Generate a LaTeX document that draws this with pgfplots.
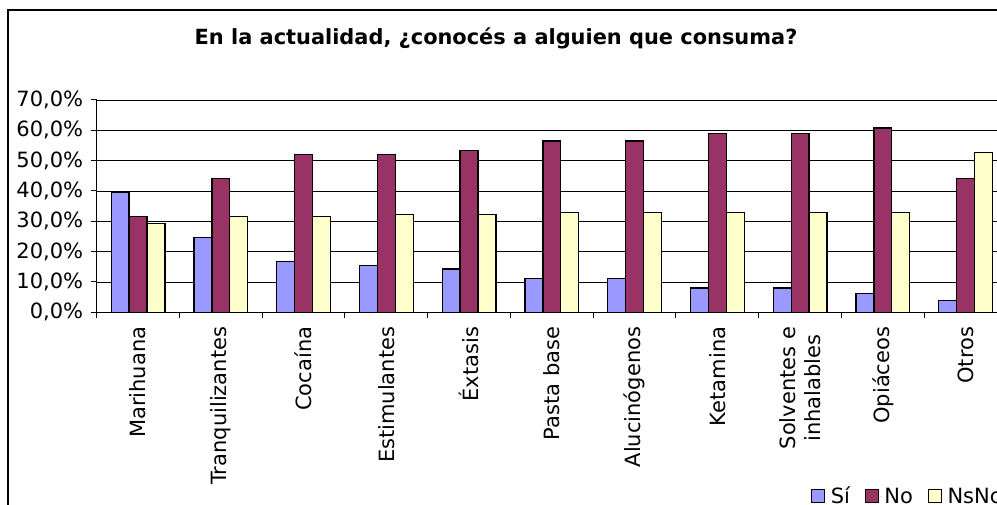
\documentclass[border=0pt]{standalone}
\usepackage{pgfplots}
\pgfplotsset{compat=1.18}
\usepackage{fontspec}
\setmainfont{DejaVu Sans}
\definecolor{csi}{HTML}{9999FF}
\definecolor{cno}{HTML}{993366}
\definecolor{cns}{HTML}{FFFFCC}
\begin{document}
\begin{tikzpicture}
\path[use as bounding box] (0pt,0pt) rectangle (997pt,505pt);
\fill[white] (0pt,0pt) rectangle (997pt,505pt);
\draw[line width=2pt] (8pt,-10pt) rectangle (1012pt,495pt);
\node[font=\fontsize{20.9}{24}\selectfont\bfseries] at (496pt,467pt) {En la actualidad, ¿conocés a alguien que consuma?};
\begin{axis}[
  at={(96.7pt,192.7pt)}, anchor=south west,
  width=910.3pt, height=212.3pt, scale only axis,
  xmin=-0.5, xmax=10.5, ymin=0, ymax=70,
  ybar=0pt, bar width=17.9pt,
  axis x line*=bottom, axis y line*=left,
  axis line style={black, line width=1pt},
  ytick={0,10,...,70},
  ymajorgrids, grid style={black, line width=0.8pt},
  xtick={0,...,10},
  xticklabels={Marihuana, Tranquilizantes, Cocaína, Estimulantes, Éxtasis, Pasta base, Alucinógenos, Ketamina, {Solventes e\\inhalables}, Opiáceos, Otros},
  minor xtick={-0.5,0.5,...,10.5},
  tick align=outside, major tick length=6pt, minor tick length=6pt,
  major x tick style={draw=none},
  tick style={black, line width=1pt},
  xticklabel style={yshift=-5pt, rotate=90, anchor=east, align=center, font=\fontsize{21}{24.5}\selectfont},
  yticklabel style={font=\fontsize{21}{24.5}\selectfont, xshift=-4pt},
  yticklabel={\pgfmathprintnumber[fixed,fixed zerofill,precision=1,use comma,assume math mode=true]{\tick}\%},
  every axis plot/.append style={draw=black, line width=1.3pt},
  legend columns=3,
  legend image code/.code={\draw[#1, line width=1pt] (0pt,-6.5pt) rectangle (13pt,6.5pt); \path[draw=none] (0pt,0pt) -- (17pt,0pt);},
  legend style={draw=none, fill=none, inner sep=0pt,
    at={(0.7848,-0.866)}, anchor=west, font=\fontsize{21}{24.5}\selectfont},
]
\addplot[fill=csi] coordinates {(0,39.6) (1,24.7) (2,16.7) (3,15.4) (4,14.3) (5,11.1) (6,11.1) (7,8.0) (8,8.0) (9,6.1) (10,3.8)};
\addplot[fill=cno] coordinates {(0,31.6) (1,44.0) (2,52.1) (3,52.0) (4,53.4) (5,56.5) (6,56.5) (7,58.9) (8,58.9) (9,60.8) (10,44.0)};
\addplot[fill=cns] coordinates {(0,29.2) (1,31.6) (2,31.6) (3,32.2) (4,32.2) (5,32.8) (6,32.8) (7,32.8) (8,32.8) (9,32.8) (10,52.7)};
\legend{Sí\rule{13pt}{0pt}, No\rule{13pt}{0pt}, NsNc}
\end{axis}
\end{tikzpicture}
\end{document}
